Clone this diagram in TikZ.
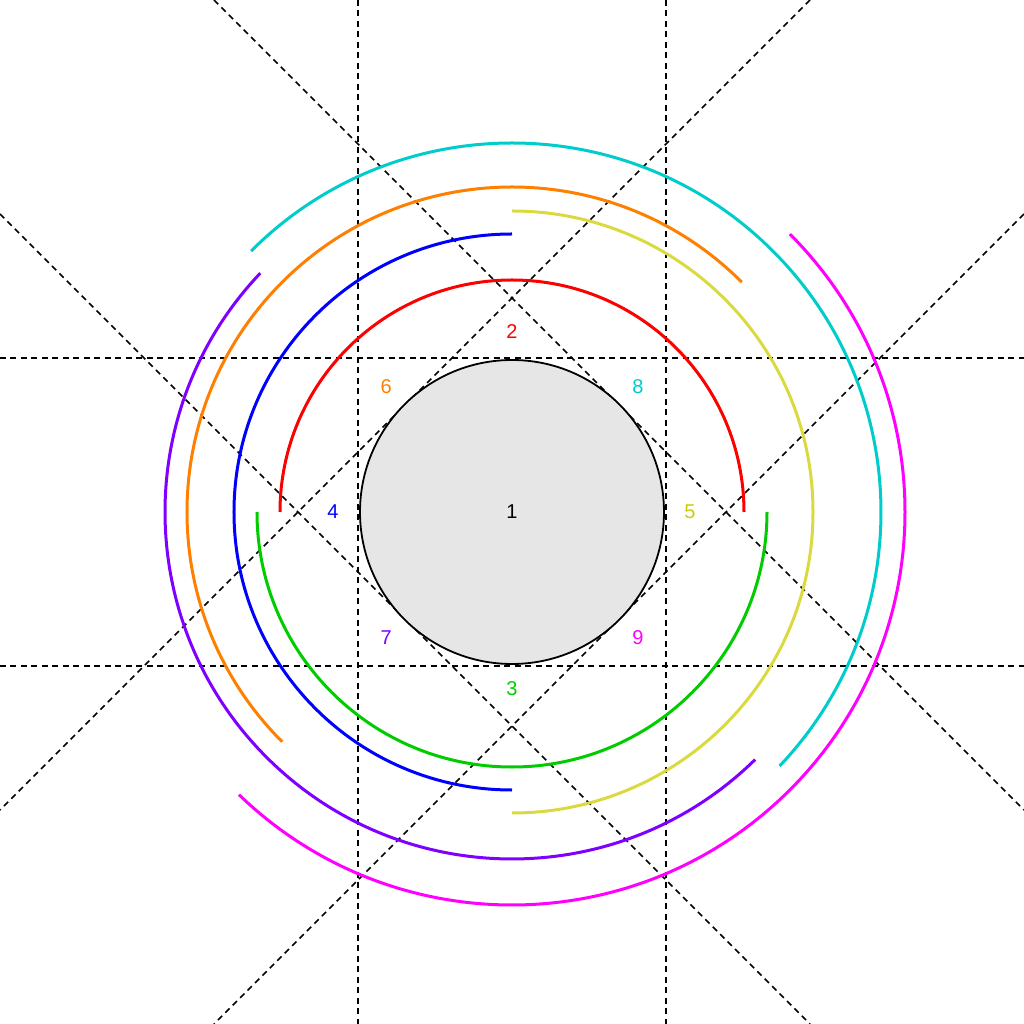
\documentclass[tikz,border=0pt]{standalone}
\usepackage{fontspec}
\setmainfont{Liberation Sans}
\definecolor{cRed}{RGB}{255,0,0}
\definecolor{cGreen}{RGB}{0,204,0}
\definecolor{cBlue}{RGB}{0,0,255}
\definecolor{cYellow}{RGB}{218,218,64}
\definecolor{cYellowLbl}{RGB}{204,204,0}
\definecolor{cOrange}{RGB}{255,128,0}
\definecolor{cPurple}{RGB}{128,0,255}
\definecolor{cCyan}{RGB}{0,204,204}
\definecolor{cMagenta}{RGB}{255,0,255}
\definecolor{cFill}{RGB}{230,230,230}
\tikzset{
  guide/.style={draw=black, line width=1.6pt, dash pattern=on 6pt off 4.5pt},
  ring/.style={line width=3pt},
  lbl/.style={font=\fontsize{20}{20}\selectfont, inner sep=0pt}
}
\begin{document}
\begin{tikzpicture}[x=1pt,y=1pt]
\useasboundingbox (-512,-512) rectangle (512,512);
% guide lines
\coordinate (hL1) at (-512,154); \coordinate (hR1) at (512,154);
\coordinate (hL2) at (-512,-154); \coordinate (hR2) at (512,-154);
\coordinate (vT1) at (-154,512); \coordinate (vB1) at (-154,-512);
\coordinate (vT2) at (154,512); \coordinate (vB2) at (154,-512);
\coordinate (d1a) at (-298,512); \coordinate (d1b) at (512,-298);
\coordinate (d2a) at (298,512); \coordinate (d2b) at (-512,-298);
\coordinate (d3a) at (-512,298); \coordinate (d3b) at (298,-512);
\coordinate (d4a) at (512,298); \coordinate (d4b) at (-298,-512);
\draw[guide] (hL1) -- (hR1);
\draw[guide] (hL2) -- (hR2);
\draw[guide] (vT1) -- (vB1);
\draw[guide] (vT2) -- (vB2);
\draw[guide] (d1a) -- (d1b);
\draw[guide] (d2a) -- (d2b);
\draw[guide] (d3a) -- (d3b);
\draw[guide] (d4a) -- (d4b);
% central disc
\node[circle, draw=black, line width=1.8pt, fill=cFill, minimum size=304pt, inner sep=0pt] (core) at (0,0) {};
% rings
\draw[ring, cRed] (0:232) arc[start angle=0, end angle=180, radius=232];
\draw[ring, cGreen] (180:255) arc[start angle=180, end angle=360, radius=255];
\draw[ring, cBlue] (90:278) arc[start angle=90, end angle=270, radius=278];
\draw[ring, cYellow] (-90:301) arc[start angle=-90, end angle=90, radius=301];
\draw[ring, cOrange] (45:325) arc[start angle=45, end angle=225, radius=325];
\draw[ring, cPurple] (136.5:347) arc[start angle=136.5, end angle=314.5, radius=347];
\draw[ring, cCyan] (135:369) arc[start angle=135, end angle=-43.5, radius=369];
\draw[ring, cMagenta] (45:393) arc[start angle=45, end angle=-134, radius=393];
% labels
\node[lbl] (l1) at (0,0) {1};
\node[lbl, text=cRed] (l2) at (90:180) {2};
\node[lbl, text=cGreen] (l3) at (270:177) {3};
\node[lbl, text=cBlue] (l4) at (180:179) {4};
\node[lbl, text=cYellowLbl] (l5) at (0:178) {5};
\node[lbl, text=cOrange] (l6) at (135:178) {6};
\node[lbl, text=cPurple] (l7) at (225:178) {7};
\node[lbl, text=cCyan] (l8) at (45:178) {8};
\node[lbl, text=cMagenta] (l9) at (315:178) {9};
\end{tikzpicture}
\end{document}
